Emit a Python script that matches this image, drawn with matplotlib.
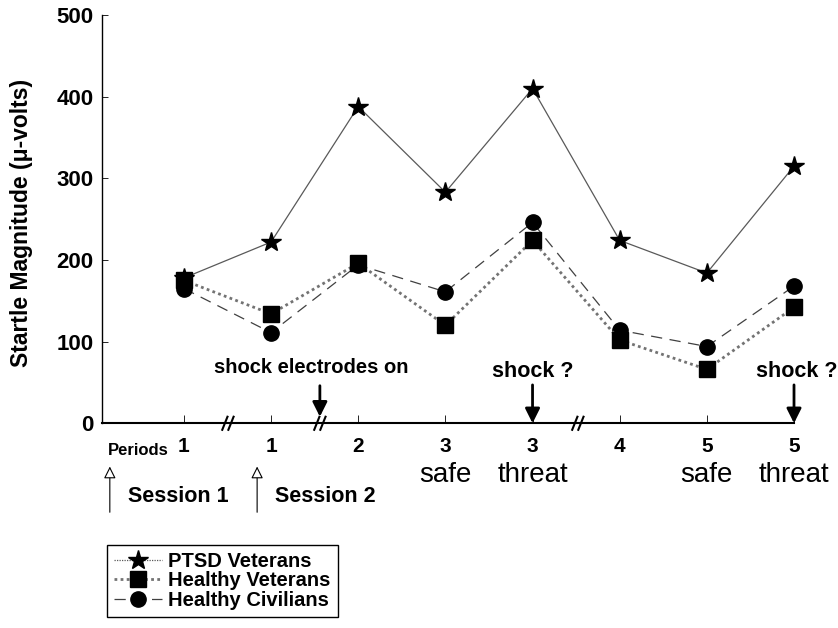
import matplotlib
matplotlib.use("Agg")
import matplotlib.pyplot as plt
from matplotlib.lines import Line2D

plt.rcParams['font.family'] = ['Liberation Sans', 'DejaVu Sans']

# periods (x index 0..7)
period_labels = ["1", "1", "2", "3", "3", "4", "5", "5"]
condition_labels = ["", "", "", "safe", "threat", "", "safe", "threat"]

ptsd_vets = [178, 222, 388, 283, 410, 224, 184, 315]
healthy_vets = [175, 134, 196, 120, 224, 102, 66, 142]
healthy_civ = [165, 111, 194, 161, 246, 114, 94, 168]

break_positions = [0.505, 1.56, 4.52]
x = list(range(len(period_labels)))

fig = plt.figure(figsize=(8.38, 6.28), dpi=100)
ax = fig.add_axes([0.1217, 0.326, 0.8258, 0.650])

ax.plot(x, ptsd_vets, color='0.35', lw=0.9, marker='*', ms=15,
        mfc='black', mec='black', clip_on=False, zorder=3)
ax.plot(x, healthy_civ, color='0.25', lw=0.9, dashes=(9, 6), marker='o', ms=11,
        mfc='black', mec='black', clip_on=False, zorder=4)
ax.plot(x, healthy_vets, color='0.45', lw=2.0, ls=(0, (1, 1.2)), marker='s', ms=12,
        mfc='black', mec='black', clip_on=False, zorder=5)

ax.set_xlim(-0.94, 7.0)
ax.set_ylim(0, 500)
ax.set_yticks([0, 100, 200, 300, 400, 500])
ax.set_xticks(x)
ax.set_xticklabels(period_labels, fontsize=15, fontweight='bold')
for lab in ax.get_yticklabels():
    lab.set_fontsize(16)
    lab.set_fontweight('bold')
ax.tick_params(axis='y', direction='in', length=4, width=0.6, pad=6)
ax.tick_params(axis='x', direction='in', length=6, width=0.6, pad=10)
ax.spines['top'].set_visible(False)
ax.spines['right'].set_visible(False)
ax.spines['left'].set_linewidth(1.0)
ax.spines['bottom'].set_linewidth(1.5)

ax.set_ylabel("Startle Magnitude (\u03bc-volts)", fontsize=16.5, fontweight='bold')
ax.yaxis.set_label_coords(-0.1, 0.49)

# axis break marks
for bx in break_positions:
    for off in (-0.035, 0.035):
        ax.plot([bx + off - 0.03, bx + off + 0.03], [-8, 8], color='black', lw=1.5,
                clip_on=False, zorder=6)

# condition labels under periods
for xi, cond in zip(x, condition_labels):
    if cond:
        ax.text(xi, -63, cond, ha='center', va='center', fontsize=20, clip_on=False)

ax.text(-0.52, -33, "Periods", ha='center', va='center', fontsize=12, fontweight='bold')

# shock annotations
arrow = dict(arrowstyle='-|>', lw=2, color='black', mutation_scale=22, shrinkA=0, shrinkB=0)
ax.annotate("", xy=(1.56, 8), xytext=(1.56, 46), arrowprops=arrow, annotation_clip=False)
ax.text(1.46, 68, "shock electrodes on", ha='center', va='center', fontsize=14.5, fontweight='bold')
ax.annotate("", xy=(4, 0), xytext=(4, 47), arrowprops=arrow, annotation_clip=False)
ax.text(4, 63, "shock ?", ha='center', va='center', fontsize=15.5, fontweight='bold')
ax.annotate("", xy=(7, 0), xytext=(7, 47), arrowprops=arrow, annotation_clip=False)
ax.text(7.03, 63, "shock ?", ha='center', va='center', fontsize=15.5, fontweight='bold',
        clip_on=False)

# session markers
hollow = dict(arrowstyle='-|>', lw=0.8, color='black', fc='white', mutation_scale=18,
              shrinkA=0, shrinkB=0)
ax.annotate("", xy=(-0.85, -53), xytext=(-0.85, -109), arrowprops=hollow, annotation_clip=False)
ax.annotate("", xy=(0.84, -53), xytext=(0.84, -109), arrowprops=hollow, annotation_clip=False)
ax.text(-0.64, -90, "Session 1", ha='left', va='center', fontsize=15.5, fontweight='bold')
ax.text(1.04, -90, "Session 2", ha='left', va='center', fontsize=15.5, fontweight='bold')

handles = [
    Line2D([], [], color='0.35', lw=0.9, ls=(0, (1, 1)), marker='*', ms=15, mfc='black', mec='black'),
    Line2D([], [], color='0.45', lw=2.0, ls=(0, (1, 1.2)), marker='s', ms=12, mfc='black', mec='black'),
    Line2D([], [], color='0.25', lw=0.9, dashes=(9, 6), marker='o', ms=11, mfc='black', mec='black'),
]
leg = fig.legend(handles, ["PTSD Veterans", "Healthy Veterans", "Healthy Civilians"],
                 loc='upper left', bbox_to_anchor=(0.1277, 0.1322), fancybox=False,
                 edgecolor='black', framealpha=1, handlelength=2.4, handletextpad=0.3,
                 labelspacing=0.02, borderpad=0.35, borderaxespad=0,
                 prop={'weight': 'bold', 'size': 14.5})
leg.get_frame().set_linewidth(1.0)

fig.savefig("out.png", dpi=100)
